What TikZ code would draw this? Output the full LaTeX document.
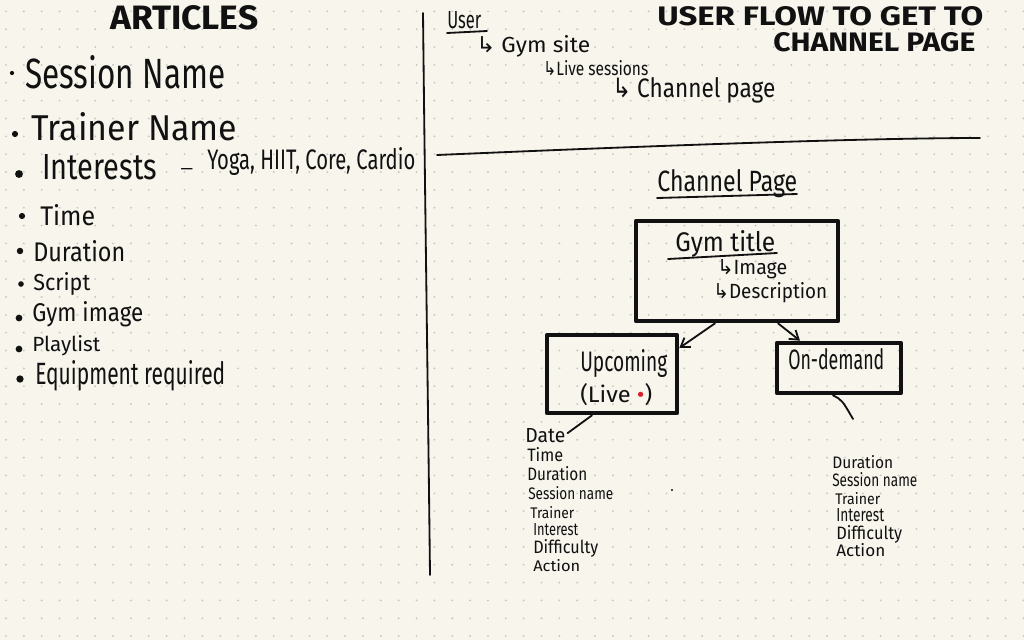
\documentclass[tikz,border=0pt]{standalone}
\usepackage{fontspec}
\setmainfont{Fira Sans}
\newfontfamily\symf{DejaVu Sans}
\usepackage{graphicx}
\usetikzlibrary{arrows.meta}
\newlength\pxu \setlength\pxu{0.025cm}
\newcommand\twh[3]{\resizebox{#1\pxu}{#2\pxu}{#3}}
\definecolor{paper}{HTML}{F7F5EC}
\definecolor{dotc}{HTML}{C9C8C0}
\definecolor{ink}{HTML}{111111}
\definecolor{livered}{HTML}{D8202A}
\begin{document}
\begin{tikzpicture}[x=0.025cm,y=-0.025cm,
  txt/.style={anchor=base west,inner sep=0pt,text=ink},
  head/.style={anchor=base west,inner sep=0pt,text=ink,font=\bfseries},
  pen/.style={draw=ink,line width=1.3pt,line cap=round,line join=round},
  boxed/.style={draw=ink,line width=3.3pt,line join=round,inner sep=0pt},
  bul/.style={fill=ink}]
\fill[paper] (0,0) rectangle (1024,640);
\useasboundingbox (0,0) rectangle (1024,640);
\foreach \i in {0,...,57}{\foreach \j in {0,...,35}{\fill[dotc] (6+17.85*\i,11.35+17.85*\j) circle (0.75pt);}}

% ---------- left: articles ----------
\node[head] (articles) at (110,29) {\twh{148}{24}{ARTICLES}};
\node[txt] (sn) at (25,88) {\twh{200}{33}{Session Name}};
\node[txt] (tn) at (31,140) {\twh{206}{28}{Trainer Name}};
\node[txt] (int) at (42,179) {\twh{115}{25}{Interests}};
\node[txt] (dash) at (180,174) {\twh{13}{6}{–}};
\node[txt] (types) at (207,169) {\twh{208}{22}{Yoga, HIIT, Core, Cardio}};
\node[txt] (time) at (40,225) {\twh{55}{21}{Time}};
\node[txt] (dur) at (33,261) {\twh{92}{21}{Duration}};
\node[txt] (scr) at (33,290) {\twh{57}{18}{Script}};
\node[txt] (gimg) at (32,321) {\twh{111}{20}{Gym image}};
\node[txt] (pl) at (32,351) {\twh{68}{16}{Playlist}};
\node[txt] (eq) at (35,384) {\twh{190}{24}{Equipment required}};
\fill[bul] (12,73) circle (1.5pt);
\fill[bul] (15,134) circle (2.2pt);
\fill[bul] (19,174) circle (2.8pt);
\fill[bul] (22,216) circle (2.2pt);
\fill[bul] (20,251) circle (2.3pt);
\fill[bul] (21,284) circle (2pt);
\fill[bul] (19,318) circle (2.4pt);
\fill[bul] (19,349) circle (2.4pt);
\fill[bul] (20,379) circle (2.6pt);

% ---------- dividers ----------
\draw[pen] (423,13) .. controls (425,200) and (428,400) .. (430,575);
\draw[pen] (437,155) .. controls (600,148) and (850,138) .. (980,138);

% ---------- user flow ----------
\node[txt] (user) at (447,28) {\twh{34}{17}{User}};
\draw[pen] (447,33) -- (487,31);
\node[txt] (gs) at (476,52) {\twh{114}{17}{{\symf ↳} Gym site}};
\node[txt] (ls) at (543,75) {\twh{105}{15}{{\symf ↳}Live sessions}};
\node[txt] (cp) at (612,97) {\twh{163}{20}{{\symf ↳} Channel page}};
\node[head] (uf1) at (657,25) {\twh{326}{19}{USER FLOW TO GET TO}};
\node[head] (uf2) at (773,51) {\twh{202}{19}{CHANNEL PAGE}};

% ---------- channel page ----------
\node[txt] (chp) at (657,191) {\twh{140}{22}{Channel Page}};
\draw[pen] (657,198) -- (797,194);

\node[boxed,minimum width=202\pxu,minimum height=100\pxu] (gym) at (737,271) {};
\node[txt] (gt) at (675,251) {\twh{100}{21}{Gym title}};
\draw[pen] (668,259) -- (777,253);
\node[txt] (gi) at (717,274) {\twh{70}{15}{{\symf ↳}Image}};
\node[txt] (gd) at (713,298) {\twh{114}{16}{{\symf ↳}Description}};

\node[boxed,minimum width=130\pxu,minimum height=78\pxu] (up) at (612,374) {};
\node[txt] (upt) at (580,371) {\twh{87}{22}{Upcoming}};
\node[txt] (live) at (580,402) {\twh{72}{19}{(Live {\color{livered}•})}};

\node[boxed,minimum width=124\pxu,minimum height=50\pxu] (od) at (839,368) {};
\node[txt] (odt) at (788,369) {\twh{96}{21}{On-demand}};

\draw[pen,-{Straight Barb[length=6pt,width=8pt]}] ([xshift=-22\pxu]gym.south) -- ([yshift=26\pxu]up.east);
\draw[pen,-{Straight Barb[length=6pt,width=8pt]}] ([xshift=41\pxu]gym.south) -- ([xshift=-39\pxu]od.north);

% upcoming list
\node[txt] (l1) at (525,442) {\twh{40}{14}{Date}};
\node[txt] (l2) at (527,461) {\twh{36}{14}{Time}};
\node[txt] (l3) at (527,480) {\twh{60}{14}{Duration}};
\node[txt] (l4) at (528,499) {\twh{85}{13}{Session name}};
\node[txt] (l5) at (530,518) {\twh{44}{12}{Trainer}};
\node[txt] (l6) at (533,535) {\twh{45}{12}{Interest}};
\node[txt] (l7) at (533,553) {\twh{65}{14}{Difficulty}};
\node[txt] (l8) at (533,571) {\twh{47}{12}{Action}};
\draw[pen] ([xshift=-20\pxu]up.south) -- ([xshift=2\pxu,yshift=2\pxu]l1.east);

% on-demand list
\node[txt] (r1) at (832,468) {\twh{61}{13}{Duration}};
\node[txt] (r2) at (832,486) {\twh{85}{14}{Session name}};
\node[txt] (r3) at (835,504) {\twh{45}{12}{Trainer}};
\node[txt] (r4) at (836,521) {\twh{48}{13}{Interest}};
\node[txt] (r5) at (836,539) {\twh{66}{14}{Difficulty}};
\node[txt] (r6) at (836,556) {\twh{49}{13}{Action}};
\coordinate (odend) at (853,419);
\draw[pen] ([xshift=-6\pxu]od.south) .. controls (842,400) .. (odend);

\fill[ink] (672,490) circle (0.8pt);
\end{tikzpicture}
\end{document}
